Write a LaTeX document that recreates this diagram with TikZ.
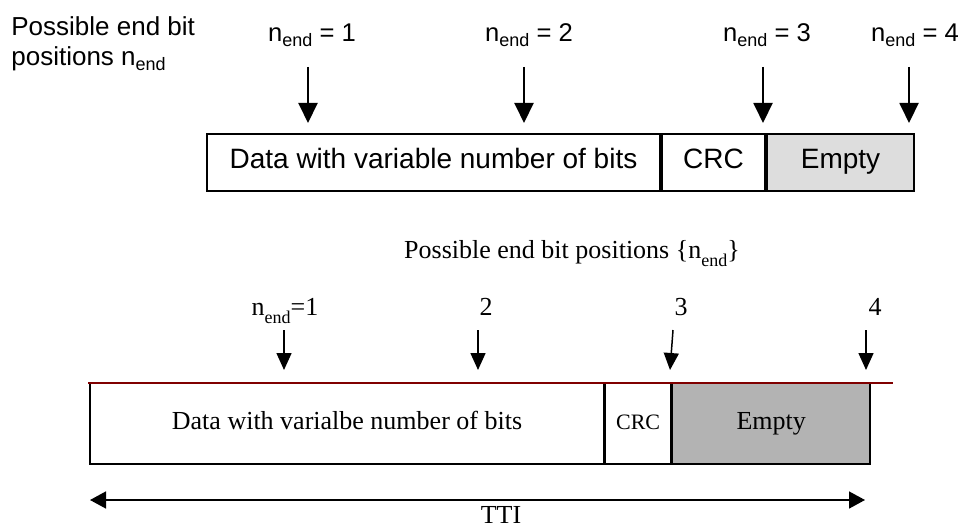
\documentclass[tikz,border=0pt]{standalone}
\usepackage{fontspec}
\setmainfont{Liberation Serif}
\setsansfont{Liberation Sans}
\usetikzlibrary{arrows.meta}

\definecolor{edgered}{RGB}{128,0,0}
\definecolor{lightempty}{RGB}{221,221,221}
\definecolor{darkempty}{RGB}{179,179,179}

\newcommand{\nendsf}{n\raisebox{-0.35ex}{\fontsize{9}{9}\selectfont end}}
\newcommand{\nendrm}{n\raisebox{-0.7ex}{\fontsize{9}{9}\selectfont end}}

\tikzset{
  topbox/.style={draw=black, line width=1pt, inner sep=0pt, minimum height=28.5pt,
    text height=1.5ex, text depth=0.3ex,
    font=\sffamily\fontsize{14}{16}\selectfont},
  lowbox/.style={draw=black, line width=0.8pt, inner sep=0pt, minimum height=40.5pt,
    text height=1.5ex, text depth=0.3ex,
    font=\fontsize{13}{15}\selectfont},
  toplabel/.style={anchor=base, inner sep=0pt, font=\sffamily\fontsize{12.8}{14}\selectfont},
  lowlabel/.style={anchor=base, inner sep=0pt, font=\fontsize{13}{15}\selectfont},
  toparrow/.style={line width=1pt, -{Triangle[length=10pt,width=9.5pt]}},
  lowarrow/.style={line width=0.75pt, -{Triangle[length=8.5pt,width=7.5pt]}},
}

\begin{document}
\begin{tikzpicture}[x=0.5pt,y=-0.5pt]
\useasboundingbox (0,0) rectangle (961,529);

% upper picture
\node[anchor=north west, inner sep=0pt, align=left,
  font=\sffamily\fontsize{13}{15}\selectfont] (title) at (11,16)
  {Possible end bit\\positions \nendsf};

\node[topbox, minimum width=226.5pt] (data) at (433.5,162.5) {Data with variable number of bits};
\node[topbox, minimum width=51.5pt, anchor=west] (crc) at (data.east) {CRC};
\node[topbox, minimum width=73.5pt, anchor=west, fill=lightempty] (empty) at (crc.east) {Empty};

\node[toplabel] (n1) at (312,42) {\nendsf{} = 1};
\node[toplabel] (n2) at (529,42) {\nendsf{} = 2};
\node[toplabel] (n3) at (767,42) {\nendsf{} = 3};
\node[toplabel] (n4) at (915,42) {\nendsf{} = 4};

\coordinate (a1) at (308,67);  \coordinate (b1) at (308,123);
\coordinate (a2) at (524,67);  \coordinate (b2) at (524,123);
\coordinate (a3) at (763,67);  \coordinate (b3) at (763,123);
\coordinate (a4) at (909,67);  \coordinate (b4) at (909,123);
\draw[toparrow] (a1) -- (b1);
\draw[toparrow] (a2) -- (b2);
\draw[toparrow] (a3) -- (b3);
\draw[toparrow] (a4) -- (b4);

% lower picture
\node[lowlabel] (lowtitle) at (572,258) {Possible end bit positions \{\nendrm\}};

\node[lowbox, minimum width=257pt] (ldata) at (347,423.5) {Data with varialbe number of bits};
\node[lowbox, minimum width=32.5pt, anchor=west, font=\fontsize{11}{13}\selectfont] (lcrc) at (ldata.east) {CRC};
\node[lowbox, minimum width=99pt, anchor=west, fill=darkempty] (lempty) at (lcrc.east) {Empty};

\node[lowlabel] (m1) at (285,315) {\nendrm=1};
\node[lowlabel] (m2) at (486,315) {2};
\node[lowlabel] (m3) at (681,315) {3};
\node[lowlabel] (m4) at (875,315) {4};

\coordinate (c1) at (284,330);  \coordinate (d1) at (284,370);
\coordinate (c2) at (478,330);  \coordinate (d2) at (478,370);
\coordinate (c3) at (673,330);  \coordinate (d3) at (670,370);
\coordinate (c4) at (866,330);  \coordinate (d4) at (866,370);
\draw[lowarrow] (c1) -- (d1);
\draw[lowarrow] (c2) -- (d2);
\draw[lowarrow] (c3) -- (d3);
\draw[lowarrow] (c4) -- (d4);

\coordinate (redL) at (88,383);
\coordinate (redR) at (893,383);
\draw[edgered, line width=0.9pt] (redL) -- (redR);

\coordinate (ttiL) at (90,500);
\coordinate (ttiR) at (865,500);
\draw[line width=0.75pt, {Triangle[length=8pt,width=8.5pt]}-{Triangle[length=8pt,width=8.5pt]}] (ttiL) -- (ttiR);
\node[lowlabel] (tti) at (501,523) {TTI};
\end{tikzpicture}
\end{document}
